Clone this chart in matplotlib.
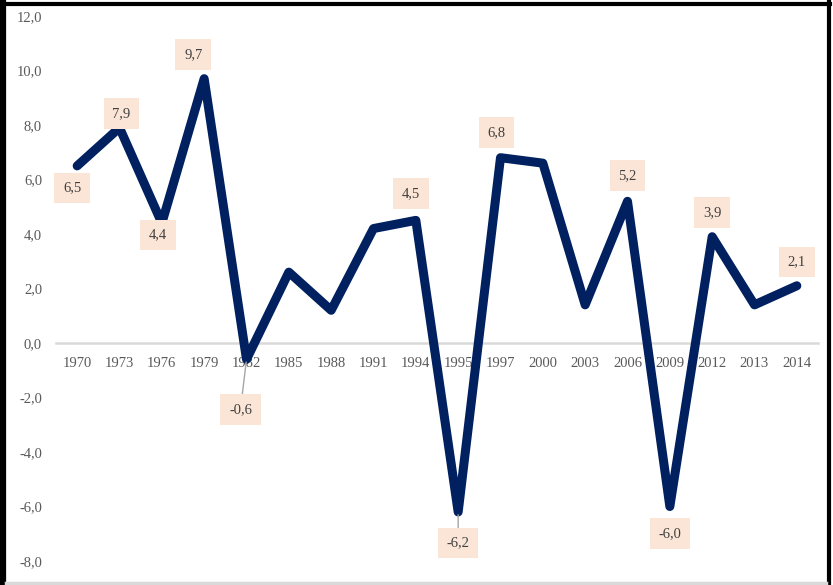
import matplotlib
matplotlib.use("Agg")
import matplotlib.pyplot as plt
from matplotlib.lines import Line2D

# data
years = ["1970", "1973", "1976", "1979", "1982", "1985", "1988", "1991", "1994",
         "1995", "1997", "2000", "2003", "2006", "2009", "2012", "2013", "2014"]
values = [6.5, 7.9, 4.4, 9.7, -0.6, 2.6, 1.2, 4.2, 4.5,
          -6.2, 6.8, 6.6, 1.4, 5.2, -6.0, 3.9, 1.4, 2.1]

# which points get a label, and where the label sits (pixel offset from point)
label_idx = [0, 1, 2, 3, 4, 8, 9, 10, 13, 14, 15, 17]
label_dx = [-5, 2, -4, -11, -6, -5, 0, -4, 0, 0, 0, 0]
label_dy = [-22, 14, -12, 24, -50, 27, -31, 25, 26, -27, 24, 24]
leader = [4, 9]

plt.rcParams["font.family"] = ["Liberation Serif", "DejaVu Serif"]

fig = plt.figure(figsize=(8.33, 5.85), dpi=100)
ax = fig.add_axes([56 / 833, 1 - 561 / 585, (818 - 56) / 833, (561 - 16) / 585])

x = list(range(len(years)))
ax.plot(x, values, color="#002060", lw=6.5, solid_joinstyle="round",
        solid_capstyle="round", zorder=3)

ax.set_xlim(-0.5, len(years) - 0.5)
ax.set_ylim(-8, 12)
ax.set_yticks(range(-8, 13, 2))
ax.set_yticklabels([f"{v:.1f}".replace(".", ",") for v in range(-8, 13, 2)])
ax.set_xticks(x)
ax.set_xticklabels(years)

for s in ["top", "right", "left"]:
    ax.spines[s].set_visible(False)
ax.spines["bottom"].set_position(("data", 0))
ax.spines["bottom"].set_color("#d9d9d9")
ax.spines["bottom"].set_linewidth(1.8)
ax.spines["bottom"].set_zorder(1)

ax.tick_params(axis="x", length=0, pad=10, labelsize=10.5, labelcolor="#595959")
ax.tick_params(axis="y", length=0, pad=10, labelsize=10.5, labelcolor="#595959")

for i, dx, dy in zip(label_idx, label_dx, label_dy):
    txt = f"{values[i]:.1f}".replace(".", ",")
    arrow = None
    if i in leader:
        arrow = dict(arrowstyle="-", color="#a6a6a6", lw=1, shrinkA=0, shrinkB=2)
    ax.annotate(txt, (i, values[i]), xytext=(dx, dy), textcoords="offset pixels",
                ha="center", va="center", fontsize=10.5, color="#404040",
                bbox=dict(boxstyle="square,pad=0.6", fc="#fbe5d6", ec="none"),
                arrowprops=arrow, zorder=4)

# outer frame
fig.add_artist(Line2D([3 / 833, 3 / 833], [0, 1 - 2 / 585], transform=fig.transFigure,
                      color="black", lw=4.5))
fig.add_artist(Line2D([0, 830 / 833], [1 - 4 / 585, 1 - 4 / 585], transform=fig.transFigure,
                      color="black", lw=3))
fig.add_artist(Line2D([829 / 833, 829 / 833], [0, 1 - 2 / 585], transform=fig.transFigure,
                      color="black", lw=3))
fig.add_artist(Line2D([6 / 833, 826 / 833], [2.5 / 585, 2.5 / 585], transform=fig.transFigure,
                      color="#d9d9d9", lw=2.5))

fig.savefig("out.png", dpi=100)
